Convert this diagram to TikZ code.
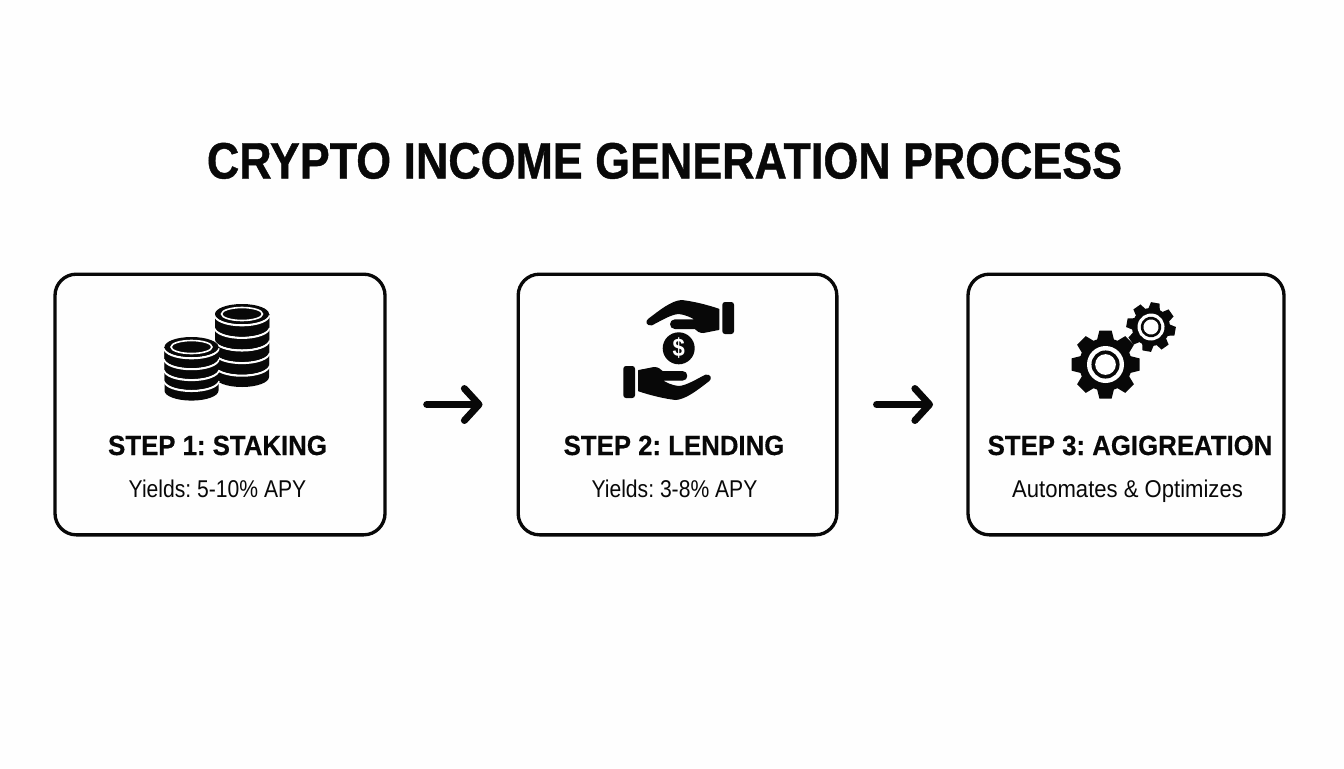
\documentclass[tikz,border=0pt]{standalone}
\usepackage{fontspec}
\setmainfont{Liberation Sans}[FakeStretch=0.87]
\newfontfamily\titlefont{Liberation Sans}[FakeStretch=0.875,BoldFeatures={FakeBold=0.8}]
\newfontfamily\stepfont{Liberation Sans}[FakeStretch=0.93,BoldFeatures={FakeBold=0.4}]
\usetikzlibrary{arrows.meta}
\frenchspacing
\definecolor{inkblack}{RGB}{8,8,8}
\definecolor{paperwhite}{RGB}{254,254,254}
\tikzset{
  boxnode/.style={draw=inkblack,line width=2.5pt,rounded corners=16pt,minimum height=195.5pt},
  titlelabel/.style={inner sep=0pt,anchor=base,text=inkblack,font=\fontsize{38.4}{44}\titlefont\bfseries},
  steplabel/.style={inner sep=0pt,anchor=base,text=inkblack,font=\fontsize{20.8}{24}\stepfont\bfseries},
  sublabel/.style={inner sep=0pt,anchor=base,text=inkblack,font=\fontsize{18.2}{20}\selectfont},
  flowarrow/.style={draw=inkblack,line width=5.2pt,line cap=round,-{Straight Barb[round,length=11pt,width=24pt,line width=5.2pt]}},
  handshape/.style={fill=inkblack,draw=inkblack,line width=1pt,line join=round},
}
% one stack of coins, from the bottom coin up
\newcommand{\coinstack}[4]{%
  \foreach \k in {#3,...,1}{
    \fill[inkblack] (#1-27,#2) -- (#1-27,#2+\k*#4) arc[start angle=180,end angle=0,x radius=27,y radius=10] -- (#1+27,#2) -- cycle;
  \ifnum\k>1
    \draw[white,line width=1.7pt] (#1-27,#2+\k*#4-#4+1.2) arc[start angle=180,end angle=0,x radius=27,y radius=10];
  \fi
  }
  \draw[white,line width=1.7pt] (#1-27,#2+1.2) arc[start angle=180,end angle=0,x radius=27,y radius=10];
  \fill[inkblack] (#1,#2) ellipse[x radius=27,y radius=10];
  \draw[white,line width=1.2pt] (#1,#2) ellipse[x radius=20.5,y radius=6.5];
}
% a gear with a ring in the middle
\newcommand{\gearicon}[7]{%
  \begin{scope}[shift={(#1,#2)},rotate=#6]
    \fill[inkblack] (0,0) circle[radius=#4];
    \foreach \a in {0,45,...,315}{
      \fill[inkblack,rotate=\a] (#4-2,-#7) -- (#3,-#7*0.72) -- (#3,#7*0.72) -- (#4-2,#7) -- cycle;
    }
    \fill[white] (0,0) circle[radius=#5];
    \fill[inkblack] (0,0) circle[radius=#5*0.76];
    \fill[white] (0,0) circle[radius=#5*0.56];
  \end{scope}
}
% upper hand, in the units of the icon
\newcommand{\handicon}{%
  \fill[inkblack,rounded corners=2pt] (337,36) rectangle (372,132);
  \path[handshape] (326,58) .. controls (290,46) and (250,36) .. (215,32) .. controls (185,34) and (150,62) .. (116,88) .. controls (108,94) and (110,106) .. (125,104) .. controls (150,92) and (180,72) .. (205,70) .. controls (228,72) and (248,82) .. (258,90) -- (195,90) .. controls (178,90) and (178,115) .. (195,115) -- (255,115) .. controls (262,122) and (268,127) .. (280,127) -- (326,118) -- cycle;
}
\begin{document}
\begin{tikzpicture}[x=0.75pt,y=0.75pt,yscale=-1,xscale=1]
	\useasboundingbox (0,0) rectangle (1344,768);
	\fill[paperwhite] (0,0) rectangle (1344,768);
	\node[titlelabel] (title) at (664.5,178.5) {CRYPTO INCOME GENERATION PROCESS};
	\node[boxnode,minimum width=247.5pt] (stakingbox) at (220,404.5) {};
	\node[boxnode,minimum width=239pt] (lendingbox) at (677.5,404.5) {};
	\node[boxnode,minimum width=237pt] (aggregationbox) at (1126,404.5) {};
	\draw[flowarrow,shorten <=30pt,shorten >=25.5pt] (stakingbox) -- (lendingbox);
	\draw[flowarrow,shorten <=28.5pt,shorten >=25pt] (lendingbox) -- (aggregationbox);
	\coinstack{242}{314}{5}{12.6}
	\coinstack{191.5}{347}{4}{10.9}
	\begin{scope}[shift={(610,290)},scale=1/3]
		\handicon
		\begin{scope}[rotate around={180:(206,180)}]
			\handicon
		\end{scope}
	\end{scope}
	\fill[inkblack] (678.7,348.3) circle[radius=16];
	\node[inner sep=0pt,text=white,font=\fontsize{19}{20}\selectfont\bfseries] (dollar) at (678.7,348.3) {\$};
	\gearicon{1105.5}{364.5}{34}{26.5}{18.5}{0}{8.5}
	\gearicon{1151}{327}{24.5}{19}{13.5}{10}{6}
	\node[steplabel] (stakingstep) at (217.5,455) {STEP 1: STAKING};
	\node[sublabel] (stakingyield) at (217.5,497.5) {Yields: 5-10\% APY};
	\node[steplabel] (lendingstep) at (674,455) {STEP 2: LENDING};
	\node[sublabel] (lendingyield) at (674.5,497.5) {Yields: 3-8\% APY};
	\node[steplabel] (aggregationstep) at (1130,455) {STEP 3: AGIGREATION};
	\node[sublabel] (aggregationnote) at (1127.5,497.5) {\addfontfeature{FakeStretch=0.91}Automates \& Optimizes};
\end{tikzpicture}
\end{document}
